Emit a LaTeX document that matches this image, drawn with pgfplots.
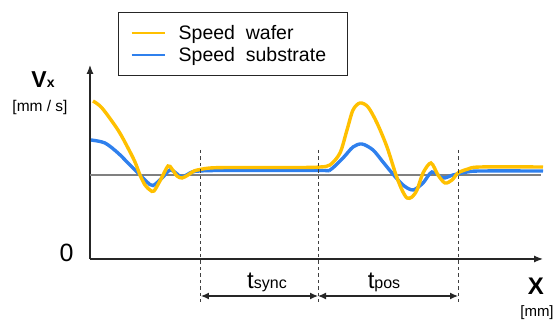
\documentclass[border=0pt]{standalone}
\usepackage{fontspec}
\setmainfont{Liberation Sans}
\usepackage{pgfplots}
\pgfplotsset{compat=1.18}
\usetikzlibrary{arrows.meta}
\definecolor{wafer}{HTML}{FFC000}
\definecolor{subst}{HTML}{2F80ED}
\definecolor{baseg}{HTML}{808080}
\begin{document}
\begin{tikzpicture}
\begin{axis}[
  x=1pt, y=1pt,
  xmin=90, xmax=543, ymin=0, ymax=194,
  axis lines=left,
  axis line style={line width=1.2pt, black!85},
  x axis line style={-{Latex[length=9pt,width=7pt]}},
  y axis line style={-{Latex[length=9pt,width=7pt]}},
  xtick=\empty, ytick={0}, yticklabels={0},
  major tick length=0pt,
  yticklabel style={font=\fontsize{25}{25}\selectfont, xshift=-13pt, yshift=6pt},
  /pgf/number format/assume math mode=true,
  clip=false,
  reverse legend,
  legend cell align=left,
  legend style={at={(axis cs:118,247)}, anchor=north west, draw=black!85, line width=1pt,
    font=\fontsize{19.5}{23.5}\selectfont, inner xsep=12pt, inner ysep=11pt, row sep=2pt,
    /tikz/every odd column/.append style={column sep=11pt}},
  legend image code/.code={\draw[#1, line width=2.2pt] (0pt,0pt) -- (33pt,0pt);},
]
\coordinate (BL) at (axis cs:0,-64);
\coordinate (TR) at (axis cs:555,259);
\addplot[baseg, line width=2pt, forget plot] coordinates {(90,84) (541,84)};
\addplot[subst, line width=3.4pt, smooth] coordinates {
(91,119) (105,116) (118,106) (128,96) (138,86) (147,77) (153,73.5) (162,81) (170,89)
(176,86) (182,82) (192,87) (200,88) (220,88.5) (320,88.5) (330,89) (343,101) (353,112)
(362,115) (373,109) (383,97) (392,86) (403,74) (413,69) (423,76) (432,87) (443,81)
(453,84) (467,87) (480,88) (543,88)};
\addlegendentry{Speed\ \ substrate\hspace*{7pt}}
\addplot[wafer, line width=3.4pt, smooth] coordinates {
(93,158) (102,151) (118,129) (128,111) (135,97) (140,84) (145,74) (150,69) (154,68)
(161,80) (168,93) (172,90) (177,83) (182,81) (188,84) (194,88) (200,89.5) (210,91)
(230,91.5) (300,91.5) (320,92) (330,94) (340,106) (347,129) (353,149) (360,156)
(368,152) (377,136) (387,112) (396,84) (402,69) (407,61) (412,62) (417,69) (423,86)
(431,96) (438,84) (445,76) (452,79) (458,86) (468,90) (480,92) (543,92)};
\addlegendentry{Speed\ \ wafer}
% markers of the intervals
\foreach \xx in {201,318,458} {
  \edef\tmp{\noexpand\draw[black!75, line width=1pt, dash pattern=on 3.5pt off 3pt] (axis cs:\xx,109) -- (axis cs:\xx,-43);}
  \tmp
}
\draw[black!85, line width=1.2pt, {Latex[length=8pt,width=7pt]}-{Latex[length=8pt,width=7pt]}] (axis cs:201,-37) -- (axis cs:318,-37);
\draw[black!85, line width=1.2pt, {Latex[length=8pt,width=7pt]}-{Latex[length=8pt,width=7pt]}] (axis cs:318,-37) -- (axis cs:458,-37);
\node[anchor=base, font=\fontsize{24}{24}\selectfont, inner sep=0pt] at (axis cs:267,-30) {t{\fontsize{16}{16}\selectfont sync}};
\node[anchor=base, font=\fontsize{24}{24}\selectfont, inner sep=0pt] at (axis cs:384,-30) {t{\fontsize{16}{16}\selectfont pos}};
\node[font=\bfseries\fontsize{23}{23}\selectfont, inner sep=0pt] at (axis cs:43,179) {V{\fontsize{14}{14}\selectfont x}};
\node[font=\fontsize{15.5}{16}\selectfont, inner sep=0pt] at (axis cs:40,152) {[mm / s]};
\node[font=\bfseries\fontsize{24}{24}\selectfont, inner sep=0pt] at (axis cs:536,-27) {X};
\node[font=\fontsize{15}{15}\selectfont, inner sep=0pt] at (axis cs:537,-54) {[mm]};
\end{axis}
\pgfresetboundingbox
\path[use as bounding box] (BL) rectangle (TR);
\end{tikzpicture}
\end{document}
